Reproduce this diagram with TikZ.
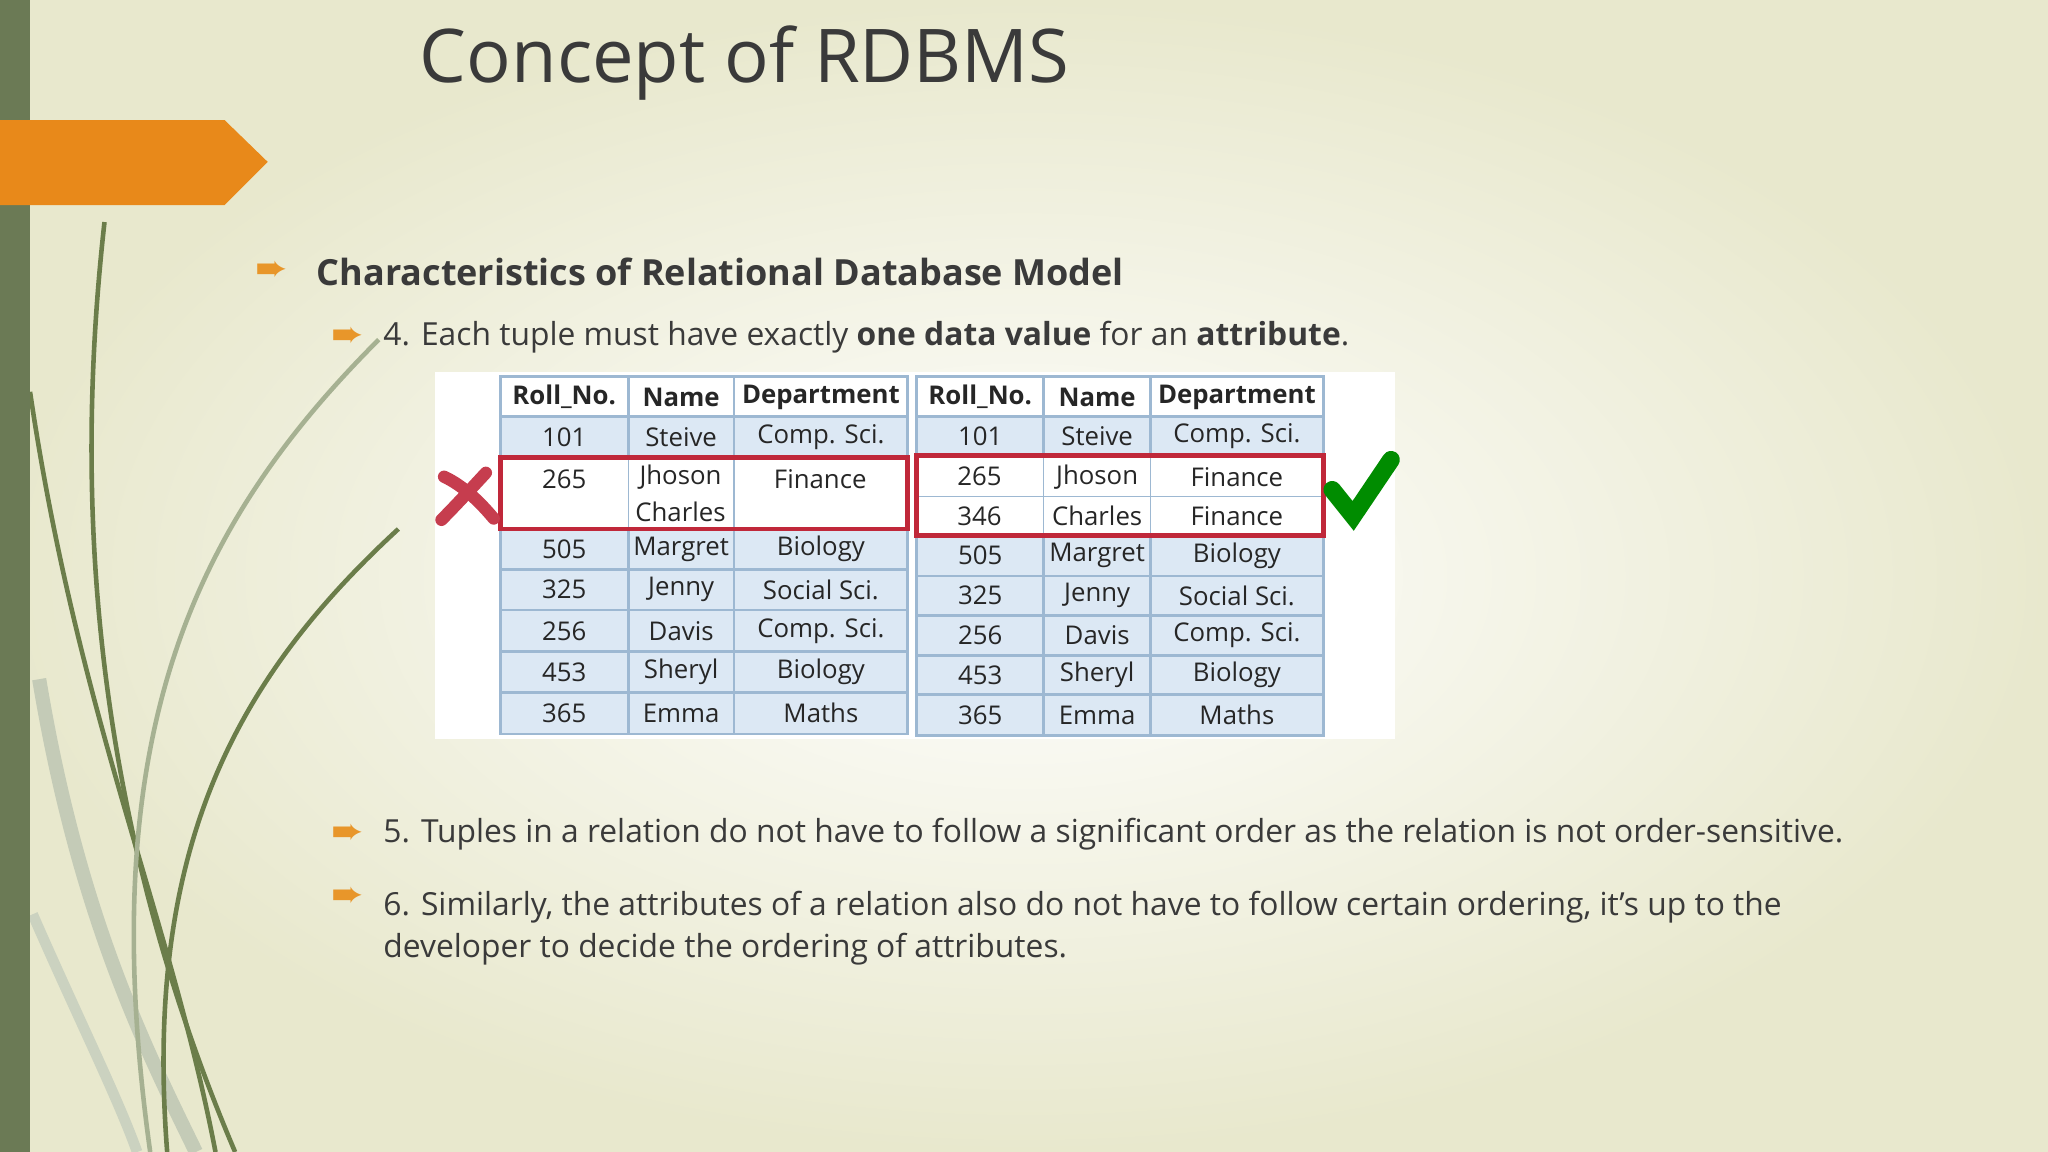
\documentclass[tikz,border=0pt]{standalone}
\usepackage{fontspec}
\setmainfont{Open Sans}
\newfontfamily\sym{DejaVu Sans}
\begin{document}
\begin{tikzpicture}[x=0.013cm,y=-0.013cm,
 cellt/.style={font=\fontsize{7.3}{9}\selectfont,text=black!85},
 bul/.style={text=orbul,font=\sym\fontsize{11}{11}\selectfont}]
\definecolor{bar}{HTML}{6B7A55}
\definecolor{orng}{HTML}{E8891A}
\definecolor{orbul}{HTML}{E8962A}
\definecolor{cellb}{HTML}{DCE8F4}
\definecolor{cellline}{HTML}{9DB8D2}
\definecolor{txt}{HTML}{3A3A3A}
\definecolor{hl}{HTML}{C0283A}
\definecolor{leaf}{HTML}{6B7D4A}
\useasboundingbox (0,0) rectangle (1568,882);
\shade[inner color=white,outer color={rgb,255:red,232;green,232;blue,205}] (0,0) rectangle (1568,882);
% leaves
\begin{scope}[line width=1.3pt]
\draw[leaf!40,line width=4pt] (30,520) .. controls (60,700) and (110,800) .. (150,882);
\draw[leaf!35,line width=3pt] (25,700) .. controls (60,780) and (90,840) .. (105,882);
\draw[leaf] (80,170) .. controls (60,350) and (60,600) .. (180,882);
\draw[leaf] (23,300) .. controls (60,550) and (130,700) .. (165,882);
\draw[leaf] (305,405) .. controls (180,520) and (110,650) .. (128,882);
\draw[leaf!60] (290,260) .. controls (150,400) and (70,560) .. (115,882);
\end{scope}
\fill[bar] (0,0) rectangle (23,882);
\fill[orng] (0,92) -- (172,92) -- (205,124) -- (172,157) -- (0,157) -- cycle;
\node[anchor=west,text=txt,font=\fontsize{21}{24}\selectfont] (title) at (312,48) {Concept of RDBMS};
\node[bul] (b0) at (208,208) {➨};
\node[anchor=west,text=txt,font=\bfseries\fontsize{10.2}{12}\selectfont] (h) at (233,208) {Characteristics of Relational Database Model};
\node[bul] (b1) at (266,258) {➨};
\node[anchor=west,text=txt,font=\fontsize{9}{11}\selectfont] (t4) at (284,258) {4. Each tuple must have exactly \textbf{one data value} for an \textbf{attribute}.};
\node[bul] (b2) at (266,639) {➨};
\node[anchor=west,text=txt,font=\fontsize{9}{11}\selectfont] (t5) at (284,639) {5. Tuples in a relation do not have to follow a significant order as the relation is not order-sensitive.};
\node[bul] (b3) at (266,687) {➨};
\node[anchor=north west,text=txt,font=\fontsize{9}{11.8}\selectfont,align=left] (t6) at (284,673) {6. Similarly, the attributes of a relation also do not have to follow certain ordering, it’s up to the\\developer to decide the ordering of attributes.};
% table image
\fill[white] (333,285) rectangle (1068,566);
\newcommand\rowL[5]{%
 \foreach \xa/\xb/\tx in {383/481/#3,481/562/#4,562/695/#5}{
  \filldraw[fill=cellb,draw=cellline,line width=0.8pt] (\xa,#1) rectangle (\xb,#2);
  \node[cellt,align=center] at ({(\xa+\xb)/2},{(#1+#2)/2}) {\tx};}}
\newcommand\rowR[5]{%
 \foreach \xa/\xb/\tx in {702/799/#3,799/881/#4,881/1013/#5}{
  \filldraw[fill=cellb,draw=cellline,line width=0.8pt] (\xa,#1) rectangle (\xb,#2);
  \node[cellt] at ({(\xa+\xb)/2},{(#1+#2)/2}) {\tx};}}
\foreach \xa/\xb/\tx in {383/481/Roll\_No.,481/562/Name,562/695/Department,702/799/Roll\_No.,799/881/Name,881/1013/Department}{
 \filldraw[fill=white,draw=cellline,line width=0.8pt] (\xa,288) rectangle (\xb,319);
 \node[cellt,font=\bfseries\fontsize{7.3}{9}\selectfont] at ({(\xa+\xb)/2},304) {\tx};}
\rowL{319}{350}{101}{Steive}{Comp. Sci.}
\filldraw[fill=white,draw=cellline] (383,350) rectangle (695,405);
\node[cellt] at (432,367) {265};
\node[cellt,align=center,font=\fontsize{7.3}{10.5}\selectfont] at (521,378) {Jhoson\\Charles};
\node[cellt] at (628,367) {Finance};
\draw[cellline] (481,350)--(481,405) (562,350)--(562,405);
\rowL{405}{436}{505}{Margret}{Biology}
\rowL{436}{467}{325}{Jenny}{Social Sci.}
\rowL{467}{499}{256}{Davis}{Comp. Sci.}
\rowL{499}{530}{453}{Sheryl}{Biology}
\rowL{530}{562}{365}{Emma}{Maths}
\rowR{319}{349}{101}{Steive}{Comp. Sci.}
\filldraw[fill=white,draw=cellline] (702,349) rectangle (1013,410);
\draw[cellline] (799,349)--(799,410) (881,349)--(881,410) (702,380)--(1013,380);
\node[cellt] at (750,365) {265};\node[cellt] at (840,365) {Jhoson};\node[cellt] at (947,365) {Finance};
\node[cellt] at (750,395) {346};\node[cellt] at (840,395) {Charles};\node[cellt] at (947,395) {Finance};
\rowR{410}{441}{505}{Margret}{Biology}
\rowR{441}{471}{325}{Jenny}{Social Sci.}
\rowR{471}{502}{256}{Davis}{Comp. Sci.}
\rowR{502}{532}{453}{Sheryl}{Biology}
\rowR{532}{563}{365}{Emma}{Maths}
\draw[hl,line width=1.4pt] (383,350) rectangle (695,405);
\draw[hl,line width=1.4pt] (702,349) rectangle (1013,410);
% X and check
\draw[hl!90,line width=3.5pt,line cap=round] (340,365) .. controls (355,372) and (368,385) .. (378,397);
\draw[hl!90,line width=3.5pt,line cap=round] (372,362) .. controls (360,375) and (348,388) .. (338,398);
\draw[green!55!black,line width=5pt,line cap=round] (1020,375) -- (1036,395) -- (1065,352);
\end{tikzpicture}
\end{document}
